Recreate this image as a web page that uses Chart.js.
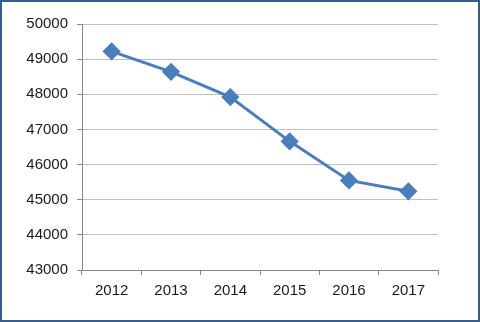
<!DOCTYPE html>
<html><head><meta charset="utf-8">
<script src="https://cdn.jsdelivr.net/npm/chart.js@4/dist/chart.umd.min.js"></script>
<style>html,body{margin:0;padding:0;background:#fff}#w{width:480px;height:322px;position:relative}</style>
</head><body><div id="w"><canvas id="c"></canvas></div>
<script>
const categories = ['2012','2013','2014','2015','2016','2017'];
const values = [49220, 48640, 47920, 46660, 45550, 45240];
const yMin = 43000, yMax = 50000, yStep = 1000;

const borderPlugin = {
  id: 'frame',
  afterDraw(chart) {
    const ctx = chart.ctx;
    ctx.save();
    ctx.strokeStyle = '#385D8A';
    ctx.lineWidth = 2;
    ctx.strokeRect(1, 1, chart.width - 2, chart.height - 2);
    ctx.restore();
  }
};

new Chart(document.getElementById('c'), {
  type: 'line',
  data: {
    labels: categories,
    datasets: [{
      data: values,
      borderColor: '#4A7EBB',
      backgroundColor: '#4A7EBB',
      borderWidth: 3,
      pointStyle: 'rectRot',
      pointRadius: 7,
      pointHoverRadius: 7,
      tension: 0
    }]
  },
  options: {
    responsive: true,
    maintainAspectRatio: false,
    animation: false,
    layout: { padding: { left: 18, right: 42, top: 24, bottom: 15 } },
    plugins: { legend: { display: false }, tooltip: { enabled: false } },
    scales: {
      x: {
        offset: true,
        grid: { offset: true, drawOnChartArea: false, color: '#868686', tickLength: 5 },
        border: { color: '#868686', width: 1 },
        ticks: { color: '#1A1A1A', font: { family: 'Liberation Sans', size: 15 }, padding: 7, maxRotation: 0 }
      },
      y: {
        min: yMin, max: yMax,
        grid: { color: '#BFBFBF', tickLength: 5, tickColor: '#868686' },
        border: { color: '#868686', width: 1 },
        ticks: { stepSize: yStep, color: '#1A1A1A', font: { family: 'Liberation Sans', size: 15 }, padding: 9,
                 callback: v => String(v) },
        afterFit(s) { s.width = 64; }
      }
    }
  },
  plugins: [borderPlugin]
});
</script>
</body></html>
